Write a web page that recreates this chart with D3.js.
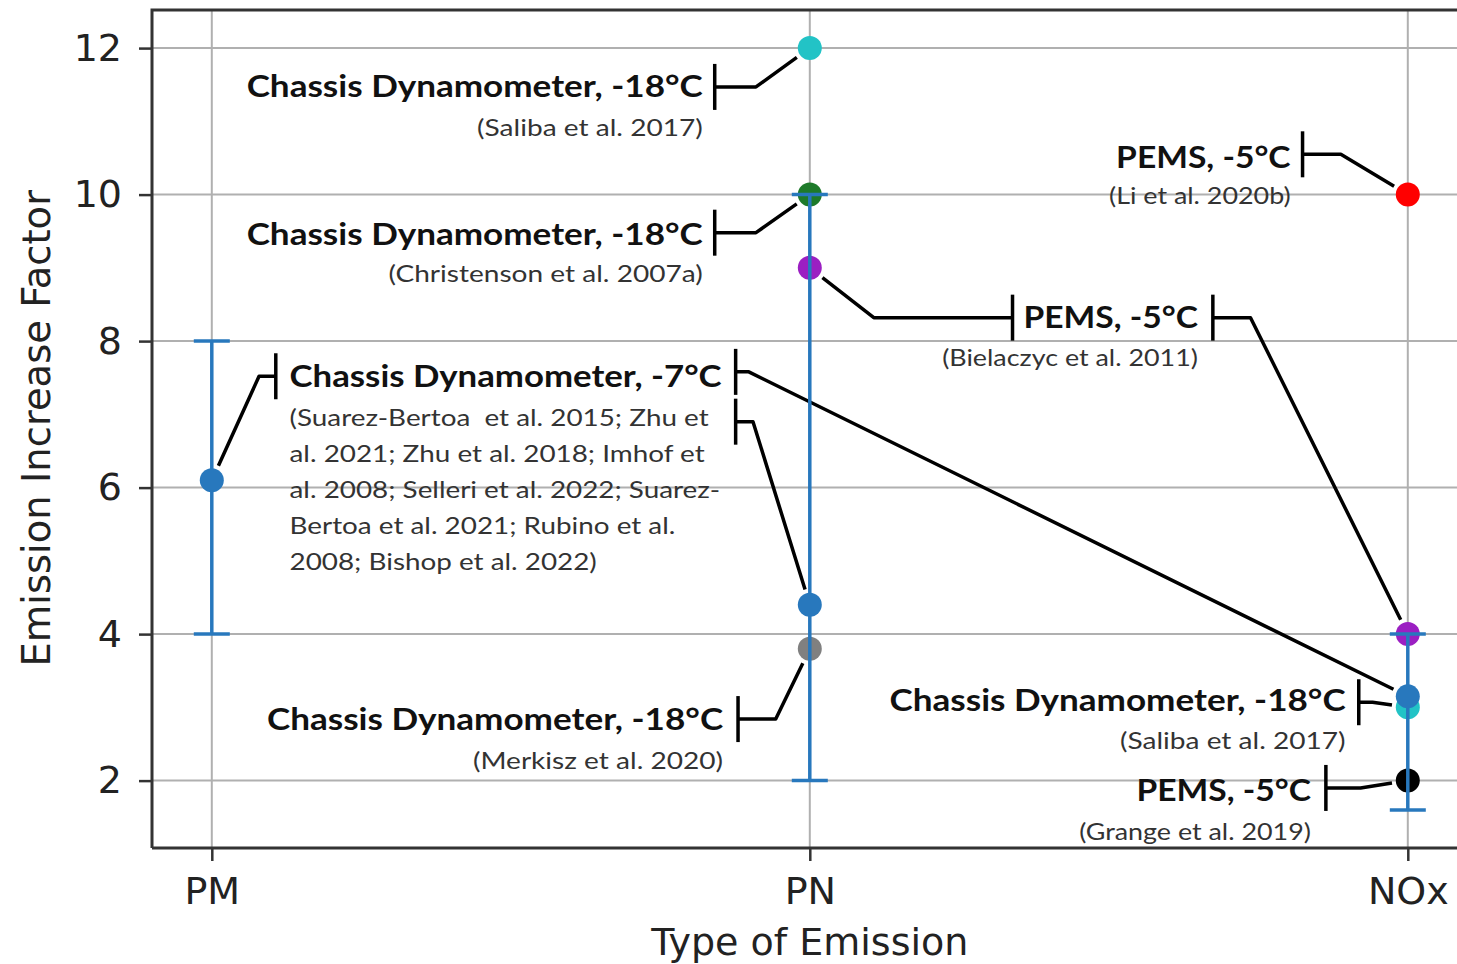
<!DOCTYPE html>
<html>
<head>
<meta charset="utf-8">
<script src="https://cdn.jsdelivr.net/npm/d3@7"></script>
<style>
  html, body { margin: 0; padding: 0; background: #fff; }
  svg { display: block; }
</style>
</head>
<body>
<div id="chart"></div>
<script>
// categories on the x axis
const categories = ["PM", "PN", "NOx"];

// mean value with error bar range for each category
const meanValues = [6.1, 4.4, 3.15];
const errLow = [4, 2, 1.6];
const errHigh = [8, 10, 4];

// individual study points
const pointCategories = ["PN", "PN", "PN", "PN", "NOx", "NOx", "NOx", "NOx"];
const pointValues = [12, 10, 9, 3.8, 10, 4, 3.0, 2.0];
const pointColors = ["#22c3c6", "#1e7a2a", "#9b1fc2", "#808080", "#ff0000", "#9b1fc2", "#22c3c6", "#000000"];

const yTicks = [2, 4, 6, 8, 10, 12];

// annotation texts
const annTitles = [
    "Chassis Dynamometer, -18°C",
    "Chassis Dynamometer, -18°C",
    "PEMS, -5°C",
    "PEMS, -5°C",
    "Chassis Dynamometer, -7°C",
    "Chassis Dynamometer, -18°C",
    "Chassis Dynamometer, -18°C",
    "PEMS, -5°C"
];
const annRefs = [
    ["(Saliba et al. 2017)"],
    ["(Christenson et al. 2007a)"],
    ["(Bielaczyc et al. 2011)"],
    ["(Li et al. 2020b)"],
    ["(Suarez-Bertoa  et al. 2015; Zhu et",
     "al. 2021; Zhu et al. 2018; Imhof et",
     "al. 2008; Selleri et al. 2022; Suarez-",
     "Bertoa et al. 2021; Rubino et al.",
     "2008; Bishop et al. 2022)"],
    ["(Merkisz et al. 2020)"],
    ["(Saliba et al. 2017)"],
    ["(Grange et al. 2019)"]
];

// annotation layout in data coordinates (x = category index, y = value)
// anchor: "end" = text ends at tx, "start" = text starts at tx
const annLayout = [
    { tx: 0.821, ty: 11.47, ry: 10.92, anchor: "end", k: 1.17 },
    { tx: 0.821, ty: 9.46, ry: 8.92, anchor: "end", k: 1.17 },
    { tx: 1.649, ty: 8.32, ry: 7.77, anchor: "end", k: 1.12 },
    { tx: 1.804, ty: 10.51, ry: 9.99, anchor: "end", k: 1.12 },
    { tx: 0.130, ty: 7.51, ry: 6.96, anchor: "start", k: 1.16 },
    { tx: 0.855, ty: 2.83, ry: 2.28, anchor: "end", k: 1.17 },
    { tx: 1.896, ty: 3.10, ry: 2.54, anchor: "end", k: 1.17 },
    { tx: 1.838, ty: 1.87, ry: 1.31, anchor: "end", k: 1.12 }
];

// connectors: bracket at (bx, by), elbow at ex, then to target
// target: {p: index into points} or {m: index into means}
const connectors = [
    { bx: 0.841, by: 11.47, ex: 0.910, target: { p: 0 } },
    { bx: 0.841, by: 9.48, ex: 0.910, target: { p: 1 } },
    { bx: 1.339, by: 8.32, ex: 1.107, target: { p: 2 } },
    { bx: 1.674, by: 8.32, ex: 1.737, target: { p: 5 } },
    { bx: 1.824, by: 10.55, ex: 1.888, target: { p: 4 } },
    { bx: 0.107, by: 7.52, ex: 0.079, target: { m: 0 } },
    { bx: 0.876, by: 7.58, ex: 0.898, target: { m: 2 } },
    { bx: 0.876, by: 6.90, ex: 0.905, target: { m: 1 } },
    { bx: 0.880, by: 2.84, ex: 0.943, target: { p: 3 } },
    { bx: 1.918, by: 3.07, ex: 1.941, target: { p: 6 } },
    { bx: 1.863, by: 1.90, ex: 1.921, target: { p: 7 } }
];

function init() {
    const W = 1457, H = 964;
    const margin = { top: 10, left: 152 };
    const plotW = 1315.6, plotH = 838;

    const svg = d3.select("#chart").append("svg")
        .attr("width", W)
        .attr("height", H);

    const x = d3.scaleLinear().domain([-0.1, 2.1]).range([margin.left, margin.left + plotW]);
    const y = d3.scaleLinear().domain([1.08, 12.52]).range([margin.top + plotH, margin.top]);
    const xc = c => x(categories.indexOf(c));

    // grid
    const grid = svg.append("g");
    grid.selectAll("line.gy").data(yTicks).join("line")
        .attr("x1", margin.left).attr("x2", margin.left + plotW)
        .attr("y1", d => y(d)).attr("y2", d => y(d))
        .attr("stroke", "#b0b0b0").attr("stroke-width", 2);
    grid.selectAll("line.gx").data(categories).join("line")
        .attr("x1", d => xc(d)).attr("x2", d => xc(d))
        .attr("y1", margin.top).attr("y2", margin.top + plotH)
        .attr("stroke", "#b0b0b0").attr("stroke-width", 2);

    // axes
    const yAxis = d3.axisLeft(y).tickValues(yTicks).tickSize(13).tickPadding(17).tickFormat(d3.format("d"));
    const xAxis = d3.axisBottom(x).tickValues([0, 1, 2]).tickSize(13).tickPadding(16).tickFormat(i => categories[i]);

    const gy = svg.append("g").attr("transform", `translate(${margin.left},0)`).call(yAxis);
    const gx = svg.append("g").attr("transform", `translate(0,${margin.top + plotH})`).call(xAxis);
    [gx, gy].forEach(g => {
        g.select(".domain").remove();
        g.selectAll(".tick line").attr("stroke", "#333").attr("stroke-width", 2.5);
        g.selectAll(".tick text")
            .attr("font-family", "'DejaVu Sans', sans-serif")
            .attr("font-size", 38)
            .attr("fill", "#222");
    });

    // spines
    svg.append("path")
        .attr("d", `M${margin.left},${margin.top + plotH}V${margin.top}H${W + 5}`)
        .attr("fill", "none").attr("stroke", "#333").attr("stroke-width", 3);
    svg.append("line")
        .attr("x1", margin.left).attr("x2", W + 5)
        .attr("y1", margin.top + plotH).attr("y2", margin.top + plotH)
        .attr("stroke", "#333").attr("stroke-width", 3);

    // axis labels
    svg.append("text")
        .attr("x", x(1)).attr("y", 955)
        .attr("text-anchor", "middle")
        .attr("font-family", "'DejaVu Sans', sans-serif")
        .attr("font-size", 38).attr("fill", "#222")
        .text("Type of Emission");
    svg.append("text")
        .attr("transform", `translate(50,${y(6.81)}) rotate(-90)`)
        .attr("text-anchor", "middle")
        .attr("font-family", "'DejaVu Sans', sans-serif")
        .attr("font-size", 38.5).attr("fill", "#222")
        .text("Emission Increase Factor");

    // connectors (drawn under markers)
    const conn = svg.append("g");
    connectors.forEach(c => {
        let tx, ty;
        if (c.target.p !== undefined) {
            tx = xc(pointCategories[c.target.p]);
            ty = y(pointValues[c.target.p]);
        } else {
            tx = x(c.target.m);
            ty = y(meanValues[c.target.m]);
        }
        const bx = x(c.bx), by = y(c.by), ex = x(c.ex);
        // shrink the end before the marker
        const dx = tx - ex, dy = ty - by;
        const len = Math.hypot(dx, dy);
        const shrink = 16;
        const endX = tx - dx / len * shrink, endY = ty - dy / len * shrink;
        conn.append("line")
            .attr("x1", bx).attr("x2", bx)
            .attr("y1", by - 23).attr("y2", by + 23)
            .attr("stroke", "#000").attr("stroke-width", 3.5);
        conn.append("path")
            .attr("d", `M${bx},${by}L${ex},${by}L${endX},${endY}`)
            .attr("fill", "none").attr("stroke", "#000").attr("stroke-width", 3.5)
            .attr("stroke-linejoin", "round");
    });

    // scatter points
    svg.append("g").selectAll("circle")
        .data(pointValues)
        .join("circle")
        .attr("cx", (d, i) => xc(pointCategories[i]))
        .attr("cy", d => y(d))
        .attr("r", 12)
        .attr("fill", (d, i) => pointColors[i]);

    // error bars
    const blue = "#2878bd";
    const eb = svg.append("g");
    eb.selectAll("line.bar").data(meanValues).join("line")
        .attr("x1", (d, i) => x(i)).attr("x2", (d, i) => x(i))
        .attr("y1", (d, i) => y(errLow[i])).attr("y2", (d, i) => y(errHigh[i]))
        .attr("stroke", blue).attr("stroke-width", 3.5);
    eb.selectAll("line.capl").data(errLow).join("line")
        .attr("x1", (d, i) => x(i) - 18).attr("x2", (d, i) => x(i) + 18)
        .attr("y1", d => y(d)).attr("y2", d => y(d))
        .attr("stroke", blue).attr("stroke-width", 3.5);
    eb.selectAll("line.caph").data(errHigh).join("line")
        .attr("x1", (d, i) => x(i) - 18).attr("x2", (d, i) => x(i) + 18)
        .attr("y1", d => y(d)).attr("y2", d => y(d))
        .attr("stroke", blue).attr("stroke-width", 3.5);
    eb.selectAll("circle").data(meanValues).join("circle")
        .attr("cx", (d, i) => x(i)).attr("cy", d => y(d))
        .attr("r", 12).attr("fill", blue);

    // annotation texts (slightly stretched, the reference uses a wider face)
    const ann = svg.append("g");
    annTitles.forEach((t, i) => {
        const L = annLayout[i];
        ann.append("text")
            .attr("transform", `translate(${x(L.tx)},${y(L.ty)}) scale(${L.k},1)`)
            .attr("dy", "0.35em")
            .attr("text-anchor", L.anchor)
            .attr("font-family", "Lato, sans-serif")
            .attr("font-weight", "bold")
            .attr("font-size", 30)
            .attr("fill", "#111")
            .text(t);
        const sub = ann.append("text")
            .attr("transform", `translate(${x(L.tx)},${y(L.ry)}) scale(${L.k},1)`)
            .attr("text-anchor", L.anchor)
            .attr("font-family", "Lato, sans-serif")
            .attr("font-size", 24)
            .attr("fill", "#333")
            .style("white-space", "pre");
        annRefs[i].forEach((line, j) => {
            sub.append("tspan")
                .attr("x", 0)
                .attr("dy", j === 0 ? "0.35em" : 36)
                .text(line);
        });
    });
}

window.addEventListener('load', init);
</script>
</body>
</html>
